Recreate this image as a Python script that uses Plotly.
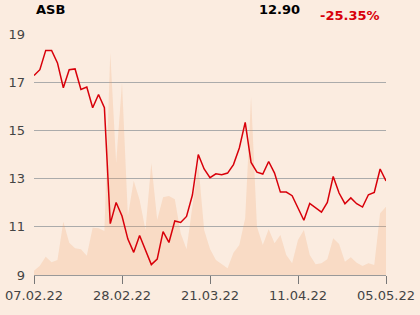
import plotly.graph_objects as go

# Trading-day index (0..60) and date tick labels
tick_idx = [0, 15, 30, 45, 60]
tick_labels = ["07.02.22", "28.02.22", "21.03.22", "11.04.22", "05.05.22"]

price = [17.28, 17.52, 18.32, 18.32, 17.80, 16.77, 17.52, 17.55, 16.70, 16.80,
         15.94, 16.49, 15.94, 11.13, 12.01, 11.45, 10.49, 9.94, 10.64, 10.05,
         9.43, 9.66, 10.80, 10.35, 11.24, 11.18, 11.43, 12.32, 14.00, 13.40,
         13.04, 13.20, 13.16, 13.23, 13.58, 14.27, 15.33, 13.67, 13.27, 13.19,
         13.71, 13.23, 12.44, 12.44, 12.29, 11.78, 11.27, 11.97, 11.78, 11.61,
         12.01, 13.09, 12.40, 11.96, 12.20, 11.96, 11.82, 12.33, 12.43, 13.40,
         12.90]

volume = [4.3, 9.3, 18.3, 12.7, 15.0, 53.3, 32.3, 26.7, 25.7, 19.3,
          47.3, 46.7, 44.0, 222.3, 111.7, 192.3, 59.0, 94.3, 75.0, 45.0,
          111.7, 55.0, 77.7, 79.0, 75.7, 41.7, 25.7, 70.0, 111.0, 45.0,
          26.0, 15.0, 11.0, 6.7, 22.3, 30.0, 56.7, 178.3, 48.3, 30.0,
          45.7, 31.7, 40.0, 20.0, 11.7, 35.0, 45.0, 20.0, 10.7, 11.7,
          15.7, 36.7, 31.0, 13.3, 17.7, 12.3, 9.0, 11.7, 10.0, 61.7,
          68.3]

x = list(range(len(price)))

name = "ASB"
last_label = "12.90"
change_label = "-25.35%"

BG = "#FBECE0"
FONT = "DejaVu Sans"

fig = go.Figure()
fig.add_trace(go.Scatter(
    x=x, y=volume, mode="lines", line=dict(width=0),
    fill="tozeroy", fillcolor="rgba(242,160,99,0.22)",
    yaxis="y", hoverinfo="skip", showlegend=False))
fig.add_trace(go.Scatter(
    x=x, y=price, mode="lines", line=dict(color="#D8000A", width=1.5),
    yaxis="y2", showlegend=False))

fig.update_layout(
    width=420, height=315,
    margin=dict(l=34, r=34, t=34, b=40, autoexpand=False),
    paper_bgcolor=BG, plot_bgcolor=BG,
    font=dict(family=FONT, size=13, color="#444"),
    xaxis=dict(range=[0, 60], tickvals=tick_idx, ticktext=tick_labels,
               ticks="outside", ticklen=8, tickcolor="#777", tickwidth=1,
               showline=True, linecolor="#999", linewidth=1,
               showgrid=False, zeroline=False, automargin=False,
               tickfont=dict(family=FONT, size=13, color="#444")),
    yaxis=dict(range=[0, 241], visible=False, showgrid=False, zeroline=False,
               fixedrange=True, automargin=False),
    yaxis2=dict(range=[9, 19], overlaying="y", side="left",
                tickvals=[9, 11, 13, 15, 17, 19],
                showgrid=True, gridcolor="#ABABAB", gridwidth=1,
                zeroline=False, showline=False, ticks="",
                ticklabelstandoff=8, automargin=False,
                tickfont=dict(family=FONT, size=13, color="#444")),
    annotations=[
        dict(text="<b>%s</b>" % name, xref="paper", yref="paper",
             x=0, y=1.0996, xanchor="left", yanchor="middle", showarrow=False,
             font=dict(family=FONT, size=13, color="#000")),
        dict(text="<b>%s</b>" % last_label, xref="paper", yref="paper",
             x=0.761, y=1.0996, xanchor="right", yanchor="middle", showarrow=False,
             font=dict(family=FONT, size=13, color="#000")),
        dict(text="<b>%s</b>" % change_label, xref="paper", yref="paper",
             x=0.989, y=1.0747, xanchor="right", yanchor="middle", showarrow=False,
             font=dict(family=FONT, size=13, color="#D8000A")),
    ],
)

fig.write_html("out.html")
